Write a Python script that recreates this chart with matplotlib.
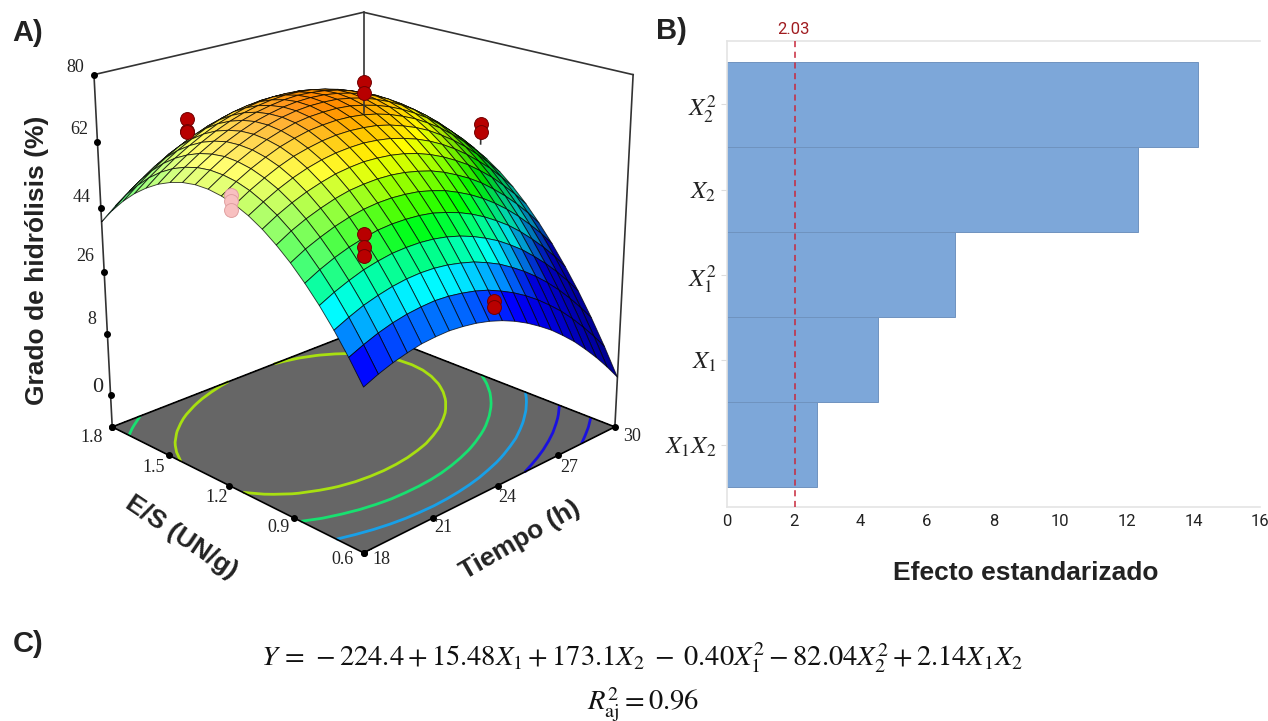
import numpy as np
import matplotlib
matplotlib.use("Agg")
import matplotlib.pyplot as plt
from mpl_toolkits.mplot3d import Axes3D

W, H = 1268, 721
plt.rcParams['font.family'] = ['Liberation Sans', 'DejaVu Sans']
plt.rcParams['mathtext.fontset'] = 'stix'

# Panel A: response surface heights
# columns: tiempo 18.0 ... 30.0 h in 21 steps; rows: E/S 0.6 ... 1.8 UN/g in 21 steps
tiempo = [18.0, 18.6, 19.2, 19.8, 20.4, 21.0, 21.6, 22.2, 22.8, 23.4, 24.0,
          24.6, 25.2, 25.8, 26.4, 27.0, 27.6, 28.2, 28.8, 29.4, 30.0]
es = [0.60, 0.66, 0.72, 0.78, 0.84, 0.90, 0.96, 1.02, 1.08, 1.14, 1.20,
      1.26, 1.32, 1.38, 1.44, 1.50, 1.56, 1.62, 1.68, 1.74, 1.80]
grado = [
    [28.0, 29.5, 30.7, 31.6, 32.3, 32.6, 32.7, 32.4, 31.9, 31.1, 30.0, 28.6, 26.9, 24.9, 22.7, 20.1, 17.3, 14.1, 10.7, 7.0, 3.0],
    [33.2, 34.7, 36.0, 37.0, 37.7, 38.1, 38.3, 38.1, 37.6, 36.9, 35.9, 34.5, 32.9, 31.0, 28.8, 26.3, 23.6, 20.5, 17.1, 13.5, 9.6],
    [37.9, 39.5, 40.9, 41.9, 42.7, 43.2, 43.4, 43.3, 42.9, 42.2, 41.3, 40.0, 38.5, 36.6, 34.5, 32.1, 29.4, 26.4, 23.1, 19.5, 15.7],
    [42.1, 43.8, 45.2, 46.4, 47.2, 47.8, 48.0, 48.0, 47.7, 47.1, 46.2, 45.0, 43.5, 41.8, 39.7, 37.4, 34.7, 31.8, 28.6, 25.1, 21.3],
    [45.8, 47.6, 49.1, 50.3, 51.2, 51.9, 52.2, 52.2, 52.0, 51.5, 50.6, 49.5, 48.1, 46.4, 44.4, 42.2, 39.6, 36.7, 33.6, 30.2, 26.4],
    [49.1, 51.0, 52.5, 53.8, 54.8, 55.5, 55.9, 56.0, 55.8, 55.4, 54.6, 53.6, 52.2, 50.6, 48.7, 46.5, 44.0, 41.2, 38.1, 34.8, 31.1],
    [51.9, 53.9, 55.5, 56.8, 57.9, 58.7, 59.1, 59.3, 59.2, 58.8, 58.1, 57.2, 55.9, 54.3, 52.5, 50.4, 47.9, 45.2, 42.2, 38.9, 35.3],
    [54.3, 56.3, 58.0, 59.4, 60.5, 61.4, 61.9, 62.2, 62.1, 61.8, 61.2, 60.3, 59.1, 57.6, 55.8, 53.8, 51.4, 48.8, 45.8, 42.6, 39.1],
    [56.2, 58.2, 60.0, 61.5, 62.7, 63.6, 64.2, 64.5, 64.6, 64.3, 63.8, 62.9, 61.8, 60.4, 58.7, 56.7, 54.4, 51.8, 49.0, 45.8, 42.4],
    [57.6, 59.7, 61.5, 63.1, 64.4, 65.3, 66.0, 66.4, 66.5, 66.3, 65.9, 65.1, 64.0, 62.7, 61.1, 59.1, 56.9, 54.4, 51.6, 48.5, 45.2],
    [58.5, 60.7, 62.6, 64.2, 65.6, 66.6, 67.4, 67.8, 68.0, 67.9, 67.5, 66.8, 65.8, 64.5, 63.0, 61.1, 59.0, 56.5, 53.8, 50.8, 47.5],
    [59.0, 61.2, 63.2, 64.9, 66.3, 67.4, 68.3, 68.8, 69.0, 69.0, 68.7, 68.0, 67.1, 65.9, 64.4, 62.6, 60.6, 58.2, 55.5, 52.6, 49.4],
    [59.0, 61.3, 63.4, 65.1, 66.6, 67.8, 68.7, 69.3, 69.6, 69.6, 69.4, 68.8, 68.0, 66.8, 65.4, 63.7, 61.7, 59.4, 56.8, 53.9, 50.8],
    [58.5, 60.9, 63.0, 64.9, 66.4, 67.7, 68.6, 69.3, 69.7, 69.8, 69.6, 69.1, 68.3, 67.3, 65.9, 64.3, 62.3, 60.1, 57.6, 54.8, 51.7],
    [57.5, 60.0, 62.2, 64.1, 65.7, 67.1, 68.1, 68.8, 69.3, 69.5, 69.3, 68.9, 68.2, 67.2, 65.9, 64.4, 62.5, 60.3, 57.9, 55.2, 52.1],
    [56.1, 58.7, 60.9, 62.9, 64.6, 66.0, 67.1, 67.9, 68.4, 68.7, 68.6, 68.3, 67.6, 66.7, 65.5, 64.0, 62.2, 60.1, 57.7, 55.1, 52.1],
    [54.2, 56.9, 59.2, 61.2, 63.0, 64.5, 65.6, 66.5, 67.1, 67.4, 67.4, 67.2, 66.6, 65.7, 64.6, 63.2, 61.4, 59.4, 57.1, 54.5, 51.6],
    [51.9, 54.6, 57.0, 59.1, 60.9, 62.5, 63.7, 64.7, 65.3, 65.7, 65.8, 65.6, 65.1, 64.3, 63.2, 61.9, 60.2, 58.3, 56.0, 53.5, 50.7],
    [49.1, 51.8, 54.3, 56.5, 58.4, 60.0, 61.3, 62.3, 63.1, 63.5, 63.7, 63.5, 63.1, 62.4, 61.4, 60.1, 58.5, 56.6, 54.5, 52.0, 49.3],
    [45.8, 48.6, 51.1, 53.4, 55.4, 57.0, 58.4, 59.5, 60.3, 60.8, 61.1, 61.0, 60.6, 60.0, 59.1, 57.8, 56.3, 54.5, 52.4, 50.0, 47.4],
    [42.0, 44.9, 47.5, 49.8, 51.9, 53.6, 55.1, 56.2, 57.1, 57.7, 58.0, 58.0, 57.7, 57.1, 56.3, 55.1, 53.7, 51.9, 49.9, 47.6, 45.0],
]

# Experimental points
pt_t = [24, 24, 21, 21, 21, 18.36, 18.36, 18.36, 21.7, 21.7, 21.7, 29.65, 29.65, 23.6, 23.6]
pt_x = [1.2, 1.2, .9, .9, .9, 1.2, 1.2, 1.2, 1.8, 1.8, 1.8, 1.2, 1.2, .6, .6]
pt_z = [75, 72.5, 50, 47, 45, 58.2, 56.8, 54.8, 61, 58.2, 57.8, 56.9, 54.9, 35.5, 34]
pt_c = ['r', 'r', 'r', 'r', 'r', 'p', 'p', 'p', 'r', 'r', 'r', 'r', 'r', 'r', 'r']
stem_t = [24, 21.7, 29.65]
stem_x = [1.2, 1.8, 1.2]
stem_top = [72.5, 58, 54.9]
stem_bot = [68, 56.5, 51.9]

contour_levels = [14, 26.5, 37.5, 47.5, 57.5]
contour_colors = ['#1a10e0', '#1a10e0', '#18a0e8', '#18e070', '#a8e010']

t_ticks = [18, 21, 24, 27, 30]
es_ticks = [0.6, 0.9, 1.2, 1.5, 1.8]
z_floor = -10
z_ticks = [-1.6, 14.1, 29.8, 45.4, 61.1, 76.8]
z_tick_labels = ['0', '8', '26', '44', '62', '80']

# Panel B
effects = [14.15, 12.35, 6.85, 4.52, 2.70]
effect_labels = [r'$X_2^2$', r'$X_2$', r'$X_1^2$', r'$X_1$', r'$X_1X_2$']
x_ticks = [0, 2, 4, 6, 8, 10, 12, 14, 16]
critical = 2.03

fig = plt.figure(figsize=(W/100, H/100), dpi=100, facecolor='white')

def ptxt(x, y, s, **kw):
    kw.setdefault('ha', 'center'); kw.setdefault('va', 'center')
    return fig.text(x/W, 1-y/H, s, **kw)

# 3D panel
size = 632; cx = 355; cy = 259
ax = fig.add_axes([(cx-size/2)/W, 1-(cy+size/2)/H, size/W, size/H],
                  projection='3d', computed_zorder=False)
ax.set_proj_type('persp', focal_length=0.55)
ax.view_init(elev=20.5, azim=-135)
ax.set_box_aspect((1, 1, 1.06))
ax.set_xlim(18, 30, view_margin=0); ax.set_ylim(0.6, 1.8, view_margin=0); ax.set_zlim(z_floor, 80, view_margin=0)
ax.set_axis_off()
ax.patch.set_alpha(0)

T, X = np.meshgrid(tiempo, es)
Z = np.array(grado)
zb = z_floor
tmin, tmax, xmin, xmax = tiempo[0], tiempo[-1], es[0], es[-1]
ax.plot_trisurf([tmin, tmax, tmax, tmin], [xmin, xmin, xmax, xmax], [zb]*4, color='#666666',
                shade=False, zorder=1, linewidth=0, antialiased=False)
ax.plot([tmin, tmax, tmax, tmin, tmin], [xmin, xmin, xmax, xmax, xmin], [zb]*5, color='k', lw=1.2, zorder=3)
ax.contour(T, X, Z, levels=contour_levels, colors=contour_colors, zdir='z', offset=zb, linewidths=2, zorder=2)

# walls
ztop = z_ticks[-1]
ax.plot([tmin, tmin, tmax, tmax], [xmax, xmax, xmax, xmin], [zb, ztop, ztop, ztop], color='#333333', lw=1.2, zorder=2)
ax.plot([tmax, tmax], [xmin, xmin], [zb, ztop], color='#333333', lw=1.2, zorder=2)
ax.plot([tmax, tmax], [xmax, xmax], [zb, ztop], color='#333333', lw=1.2, zorder=2)
ax.plot(t_ticks, [xmin]*5, [zb]*5, 'o', color='k', ms=4, zorder=4)
ax.plot([tmin]*5, es_ticks, [zb]*5, 'o', color='k', ms=4, zorder=4)
ax.plot([tmin]*6, [xmax]*6, z_ticks, 'o', color='k', ms=4, zorder=4)
ax.plot([tmin], [xmax], [zb], 'o', color='k', ms=4, zorder=4)

# surface colours
Zc = 0.25*(Z[:-1, :-1]+Z[1:, :-1]+Z[:-1, 1:]+Z[1:, 1:])
nodes = [31, 41, 51, 62, 70]
r = np.interp(Zc, nodes, [0, 0, 0, 1, 1])
g = np.interp(Zc, nodes, [0, 1, 1, 1, .5])
b = np.interp(Zc, nodes, [1, 1, 0, 0, 0])
dz = np.gradient(Z, axis=1)[:-1, :-1]*10
f = np.clip(1+(dz+15)*0.018, .5, 1)
w = np.clip(dz/24, 0, 1)*.5*np.clip((Zc-44)/6, 0, 1)
fc = np.dstack([(r+(1-r)*w)*f, (g+(1-g)*w)*f, (b+(1-b)*w)*f, np.ones_like(r)])
ax.plot_surface(T, X, Z, rstride=1, cstride=1, facecolors=fc, edgecolor=(0, 0, 0, .75),
                linewidth=.65, shade=False, zorder=5)

for t, x, z0, z1 in zip(stem_t, stem_x, stem_top, stem_bot):
    ax.plot([t, t], [x, x], [z0, z1], color='#333333', lw=1.2, zorder=6)
for t, x, z, c in zip(pt_t, pt_x, pt_z, pt_c):
    col = '#b80000' if c == 'r' else '#f8c0c0'
    ax.plot([t], [x], [z], 'o', ms=10, mfc=col, mec='#700000' if c == 'r' else '#e0a0a0', mew=.7,
            zorder=7)

# Axis text
serif = 'Liberation Serif'
for s, (x, y) in zip(z_tick_labels[1:], [(92, 320), (85, 256), (82, 197), (79, 130), (75, 67)]):
    ptxt(x, y, s, family=serif, fontsize=13, color='#222222')
ptxt(98, 388, z_tick_labels[0], family=serif, fontsize=16, color='#222222')
for s, (x, y) in zip(es_ticks, [(342, 559), (279, 528), (217, 498), (154, 467), (92, 438)]):
    ptxt(x, y, f'{s:.1f}', family=serif, fontsize=13, color='#222222')
for s, (x, y) in zip(t_ticks, [(381, 559), (443, 528), (507, 498), (569, 468), (632, 437)]):
    ptxt(x, y, str(s), family=serif, fontsize=13, color='#222222')
ptxt(37, 260, 'Grado de hidrólisis (%)', rotation=90, fontweight='bold', fontsize=19, color='#222222')
ptxt(181, 537, 'E/S (UN/g)', rotation=-34, fontweight='bold', fontsize=19, color='#222222', rotation_mode='anchor')
ptxt(520, 540, 'Tiempo (h)', rotation=30, fontweight='bold', fontsize=19, color='#222222', rotation_mode='anchor')

# Pareto panel
L, R, Tp, Bt = 727, 1260, 41, 507
axb = fig.add_axes([L/W, 1-Bt/H, (R-L)/W, (Bt-Tp)/H])
ypos = np.arange(len(effects))
axb.barh(ypos, effects, height=1, color='#7da7d9', edgecolor='#6f93bf', linewidth=.7, zorder=2)
axb.set_xlim(0, 16); axb.set_ylim(4.735, -0.747)
axb.axvline(critical, color='#c8283c', ls=(0, (4, 3)), lw=1.1, zorder=3)
axb.set_xticks(x_ticks); axb.set_yticks(ypos)
axb.set_yticklabels(effect_labels, fontsize=18, color='#222222')
narrow = 'Roboto'
axb.set_xticklabels([str(v) for v in x_ticks], family=narrow, fontsize=12, color='#222222')
axb.tick_params(axis='both', color='#dddddd', length=4, width=.8)
axb.tick_params(axis='x', length=0, pad=5)
for k, s in axb.spines.items():
    s.set_color('#e4e4e4'); s.set_linewidth(1.2)
axb.spines['right'].set_visible(False)
ptxt(793, 29, f'{critical}', family=narrow, fontsize=12, color='#a01c20')
ptxt(1026, 573, 'Efecto estandarizado', fontweight='bold', fontsize=19, color='#222222')

ptxt(28, 33, 'A)', fontweight='bold', fontsize=21, color='#222222')
ptxt(671, 31, 'B)', fontweight='bold', fontsize=21, color='#222222')
ptxt(28, 644, 'C)', fontweight='bold', fontsize=21, color='#222222')
ptxt(642, 658, r'$Y\,=\,-224.4+15.48X_1+173.1X_2\;-\;0.40X_1^2-82.04X_2^2+2.14X_1X_2$', fontsize=20.5, color='#111111')
ptxt(643, 704, r'$R_{\mathrm{aj}}^2=0.96$', fontsize=20.5, color='#111111')

fig.savefig('out.png', dpi=100)
